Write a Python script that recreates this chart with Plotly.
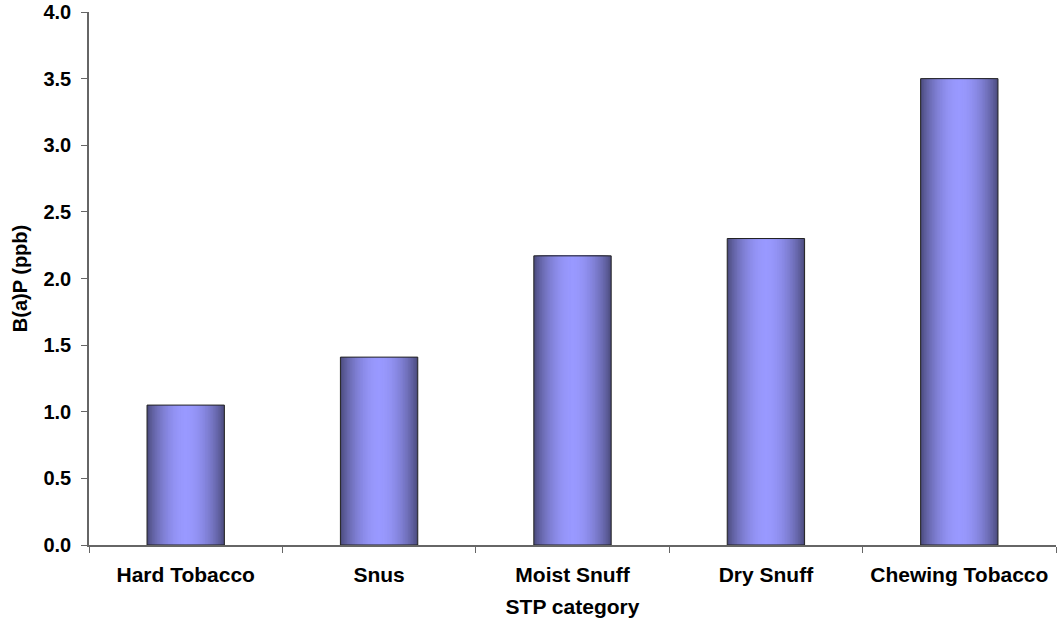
import math
import plotly.graph_objects as go

categories = ["Hard Tobacco", "Snus", "Moist Snuff", "Dry Snuff", "Chewing Tobacco"]
bap_ppb = [1.05, 1.41, 2.17, 2.30, 3.50]
y_ticks = [0, 0.5, 1.0, 1.5, 2.0, 2.5, 3.0, 3.5, 4.0]
y_tick_labels = ["0.0", "0.5", "1.0", "1.5", "2.0", "2.5", "3.0", "3.5", "4.0"]

dark = (76, 76, 126)
light = (153, 153, 255)
BAR_W = 0.4
N = 24

fig = go.Figure()
for i in range(N):
    frac = i / N  # 0 = outer edge, ->1 = center
    w = BAR_W * (1 - frac)
    t = math.sin(math.pi / 2 * frac) ** 0.8
    c = tuple(int(round(d + (l - d) * t)) for d, l in zip(dark, light))
    fig.add_trace(go.Bar(
        x=categories, y=bap_ppb, width=w,
        marker=dict(color="rgb(%d,%d,%d)" % c, line=dict(width=0)),
        showlegend=False, hoverinfo="skip" if i else None,
    ))
# outline
fig.add_trace(go.Bar(
    x=categories, y=bap_ppb, width=BAR_W,
    marker=dict(color="rgba(0,0,0,0)", line=dict(color="#222", width=1)),
    showlegend=False, hoverinfo="skip",
))

font = "Liberation Sans, Arial, sans-serif"
fig.update_layout(
    barmode="overlay",
    width=1057, height=624,
    margin=dict(l=89, r=1, t=12, b=79, autoexpand=False),
    paper_bgcolor="white", plot_bgcolor="white",
    font=dict(family=font, size=20, color="black"),
    xaxis=dict(
        type="category", range=[-0.5, 4.5], automargin=False,
        showline=True, linecolor="#666", linewidth=1.5,
        ticks="outside", tickson="boundaries", ticklen=6, tickcolor="#666",
        showgrid=False, zeroline=False,
        tickfont=dict(family=font, size=21, color="black", weight="bold"),
        ticklabelstandoff=10,
        title=dict(text="<b>STP category</b>", font=dict(family=font, size=21), standoff=14),
    ),
    yaxis=dict(
        range=[0, 4.0], tickvals=y_ticks, ticktext=y_tick_labels, automargin=False,
        showline=True, linecolor="#666", linewidth=1.5,
        ticks="outside", ticklen=6, tickcolor="#666",
        showgrid=False, zeroline=False,
        tickfont=dict(family=font, size=20, color="black", weight="bold"),
        ticklabelstandoff=6,
        title=dict(text="<b>B(a)P (ppb)</b>", font=dict(family=font, size=20), standoff=10),
    ),
)
fig.write_html(
    "out.html",
    config={"displayModeBar": False},
    post_script="document.body.style.margin='0';document.body.style.overflow='hidden';",
)
